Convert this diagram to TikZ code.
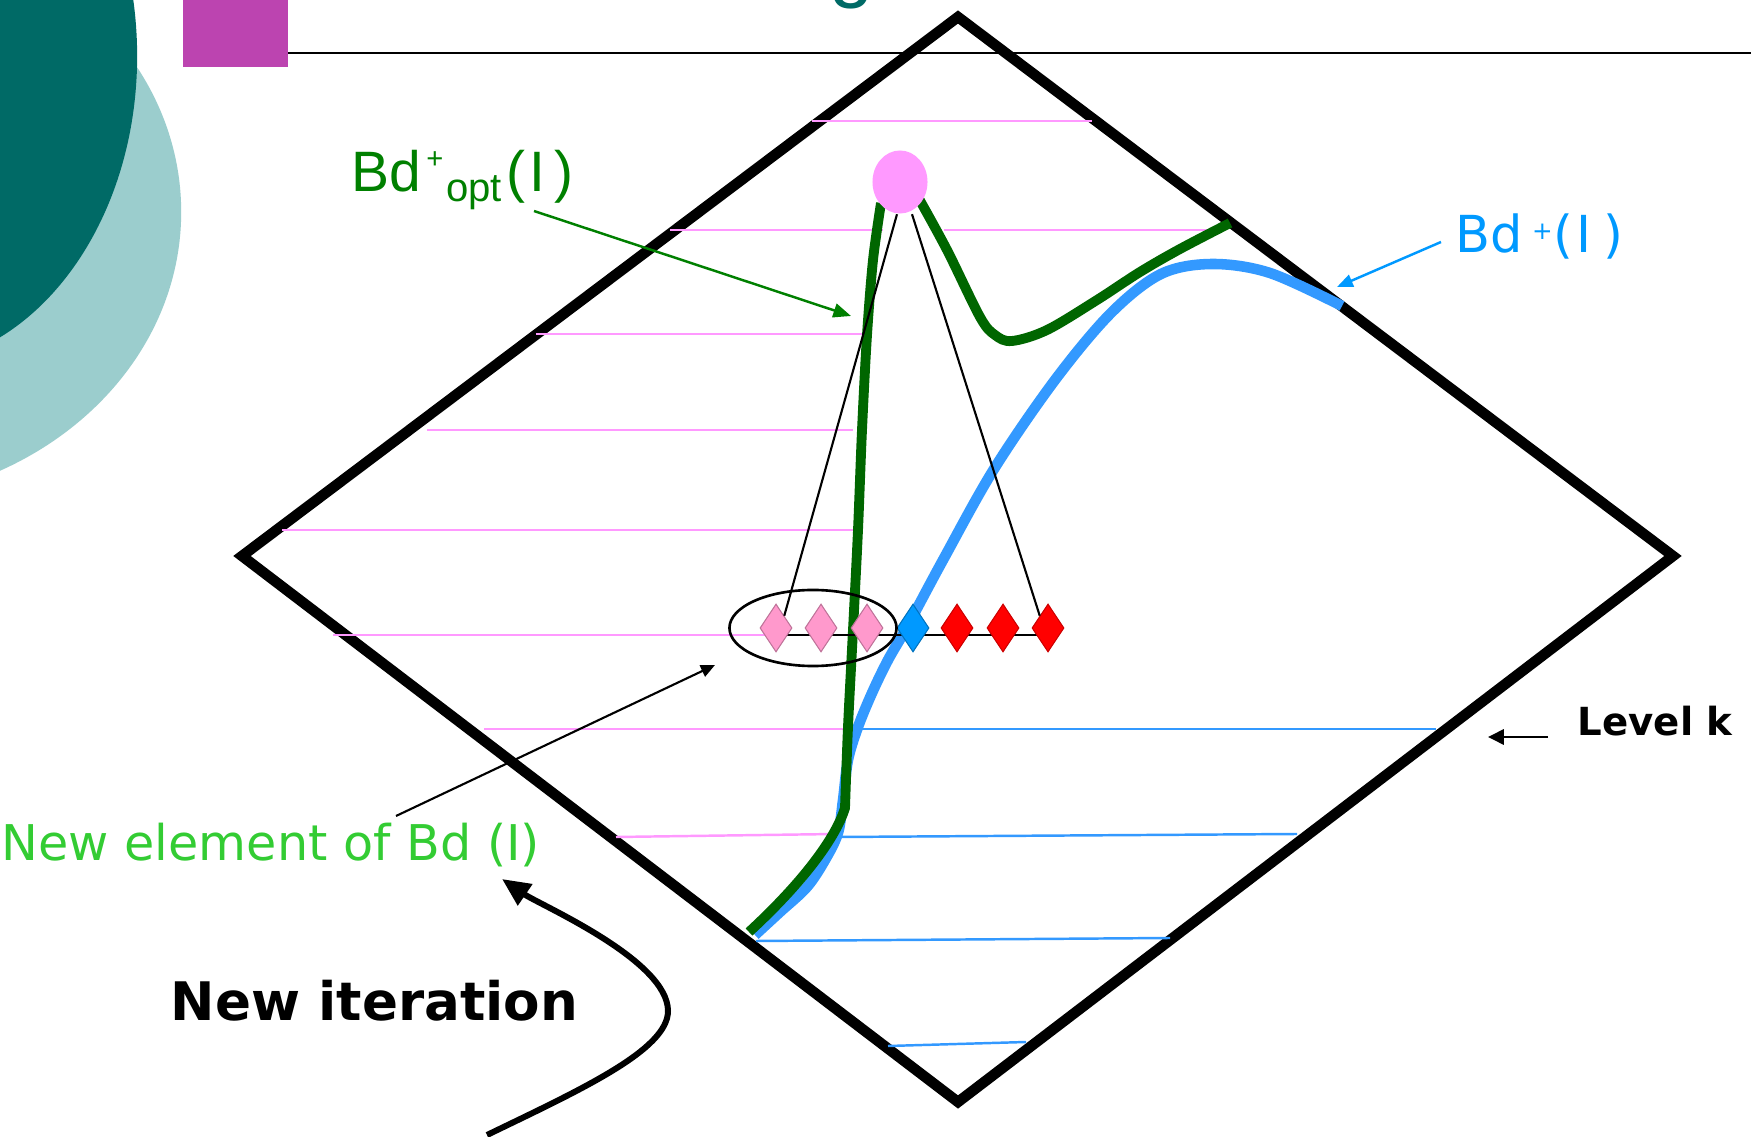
\documentclass[tikz,border=0pt]{standalone}
\usepackage{fontspec}
\setmainfont{Liberation Sans}
\newfontfamily\dejavu{DejaVu Sans}
\usetikzlibrary{arrows.meta,shapes.geometric}
\definecolor{darkteal}{RGB}{0,106,102}
\definecolor{lightteal}{RGB}{155,205,205}
\definecolor{magbox}{RGB}{188,68,176}
\definecolor{pinkline}{RGB}{255,153,255}
\definecolor{blueline}{RGB}{51,153,255}
\definecolor{curvegreen}{RGB}{0,102,0}
\definecolor{labelgreen}{RGB}{0,128,0}
\definecolor{lightgreen}{RGB}{51,204,51}
\definecolor{skyblue}{RGB}{0,153,255}
\definecolor{pinkdia}{RGB}{255,153,204}
\definecolor{pinkball}{RGB}{255,153,255}
\definecolor{reddia}{RGB}{255,0,0}
\begin{document}
\begin{tikzpicture}[x=0.01cm,y=-0.01cm,
  hline/.style={line width=0.7pt},
  dia/.style={diamond, minimum width=0.32cm, minimum height=0.48cm, inner sep=0pt, line width=0.3pt},
  lbl/.style={anchor=base west, inner sep=0pt},
  ptr/.style={line width=0.6pt}]
\useasboundingbox (0,0) rectangle (1751,1137);
\fill[white] (0,0) rectangle (1751,1137);
% background decorations
\fill[lightteal] (-150,212) ellipse [x radius=3.31cm, y radius=2.9cm];
\fill[darkteal] (-100,56) ellipse [x radius=2.37cm, y radius=3.1cm];
\fill[magbox] (183,0) rectangle (288,67);
\draw[line width=0.7pt] (288,53) -- (1751,53);
\node[anchor=base, inner sep=0pt, text=darkteal, font=\fontsize{22.7}{27}\selectfont] (titleg) at (852,-7) {g};
% lattice outline
\draw[line width=3pt, line join=miter] (958,17) -- (1673,556) -- (958,1102) -- (242,556) -- cycle;
% level lines
\draw[hline, pinkline] (812,121) -- (1092,121);
\draw[hline, pinkline] (670,230) -- (883,230);
\draw[hline, pinkline] (944,230) -- (1213,230);
\draw[hline, pinkline] (536,334) -- (866,334);
\draw[hline, pinkline] (427,430) -- (853,430);
\draw[hline, pinkline] (282,530) -- (858,530);
\draw[hline, pinkline] (333,635) -- (790,635);
\draw[hline, pinkline] (484,729) -- (852,729);
\draw[hline, blueline] (852,729) -- (1436,729);
\draw[hline, pinkline] (616,837) -- (836,834);
\draw[hline, blueline] (838,837) -- (1297,834);
\draw[hline, blueline] (756,941) -- (1170,938);
\draw[hline, blueline] (888,1046) -- (1026,1042);
% borders
\draw[blueline, line width=3pt] plot[smooth, tension=0.55] coordinates {(755,935) (780,912) (807,887) (825,860) (838,833) (843,800) (848,760) (858,727) (872,693) (888,660) (907,627) (943,560) (994,469) (1055,380) (1111,313) (1161,274) (1212,264) (1270,273) (1342,306)};
\draw[curvegreen, line width=2.8pt, line join=miter] plot[smooth, tension=0.5] coordinates {(881,203) (873,260) (867,335) (862,430) (858,530) (853,630) (848,727) (845,808)} .. controls (835,840) and (800,885) .. (749,932);
\draw[curvegreen, line width=2.8pt] plot[smooth, tension=0.55] coordinates {(918,197) (947,250) (980,317) (995,335) (1012,341) (1047,330) (1097,300) (1140,272) (1180,249) (1230,223)};
% top element
\node[ellipse, fill=pinkball, minimum width=0.55cm, minimum height=0.63cm, inner sep=0pt] (ball) at (900,182) {};
% elements of level k
\coordinate (rowL) at (776,635);
\coordinate (rowR) at (1048,635);
\draw[ptr] (rowL) -- (rowR);
\node[dia, fill=pinkdia, draw=pinkdia!75!black] (p1) at (776,628) {};
\node[dia, fill=pinkdia, draw=pinkdia!75!black] (p2) at (821,628) {};
\node[dia, fill=pinkdia, draw=pinkdia!75!black] (p3) at (867,628) {};
\node[dia, fill=skyblue, draw=skyblue!75!black] (b1) at (913,628) {};
\node[dia, fill=reddia, draw=reddia!80!black] (r1) at (957,628) {};
\node[dia, fill=reddia, draw=reddia!80!black] (r2) at (1003,628) {};
\node[dia, fill=reddia, draw=reddia!80!black] (r3) at (1048,628) {};
\draw[ptr] ([xshift=-0.03cm]ball.south) -- (p1.north east);
\draw[ptr] ([xshift=0.12cm]ball.south) -- (r3.north west);
\node[ellipse, draw, line width=0.75pt, minimum width=1.67cm, minimum height=0.76cm, inner sep=0pt] (grp) at (813,628) {};
% labels
\node[lbl, text=labelgreen, font=\fontsize{16.2}{19}\selectfont] (optlbl) at (351,192) {Bd\kern1.4pt\raisebox{6.6pt}{\fontsize{8.3}{9}\selectfont +}\kern0.8pt\raisebox{-2.6pt}{\fontsize{11.4}{13}\selectfont opt}\kern1.3pt(\kern1.2pt I\kern2.6pt)};
\coordinate (optfrom) at (534,211);
\coordinate (opttip) at (851,316);
\draw[labelgreen, line width=0.7pt, -{Triangle[length=5pt,width=4pt]}] (optfrom) -- (opttip);
\node[lbl, text=skyblue, font=\dejavu\fontsize{14.5}{17}\selectfont] (bdlbl) at (1455,253) {Bd\kern2.6pt\raisebox{3.8pt}{\fontsize{7}{8}\selectfont +}\kern0.3pt(\kern0.85pt I\kern3.4pt)};
\coordinate (bdfrom) at (1441,242);
\coordinate (bdtip) at (1337,287);
\draw[skyblue, line width=0.7pt, -{Triangle[length=4.5pt,width=3.6pt]}] (bdfrom) -- (bdtip);
\node[lbl, font=\dejavu\bfseries\fontsize{11}{13}\selectfont] (lvl) at (1577,736) {Level k};
\coordinate (lvlfrom) at (1548,737);
\coordinate (lvltip) at (1488,737);
\draw[line width=0.8pt, -{Triangle[length=4.5pt,width=4.3pt]}] (lvlfrom) -- (lvltip);
\node[lbl, text=lightgreen, font=\dejavu\fontsize{14}{17}\selectfont] (newel) at (1,860) {New element of Bd (I)};
\coordinate (newfrom) at (396,816);
\coordinate (newtip) at (715,665);
\draw[line width=0.6pt, -{Triangle[length=4pt,width=3.5pt]}] (newfrom) -- (newtip);
\node[lbl, font=\dejavu\bfseries\fontsize{15.1}{18}\selectfont] (iter) at (170,1020) {New iteration};
\coordinate (iterstart) at (487,1135);
\coordinate (itertip) at (502,879);
\draw[line width=1.7pt, -{Triangle[length=8pt,width=7pt]}] (iterstart) .. controls (580,1090) and (668,1050) .. (668,1011) .. controls (668,960) and (540,905) .. (itertip);
\end{tikzpicture}
\end{document}
